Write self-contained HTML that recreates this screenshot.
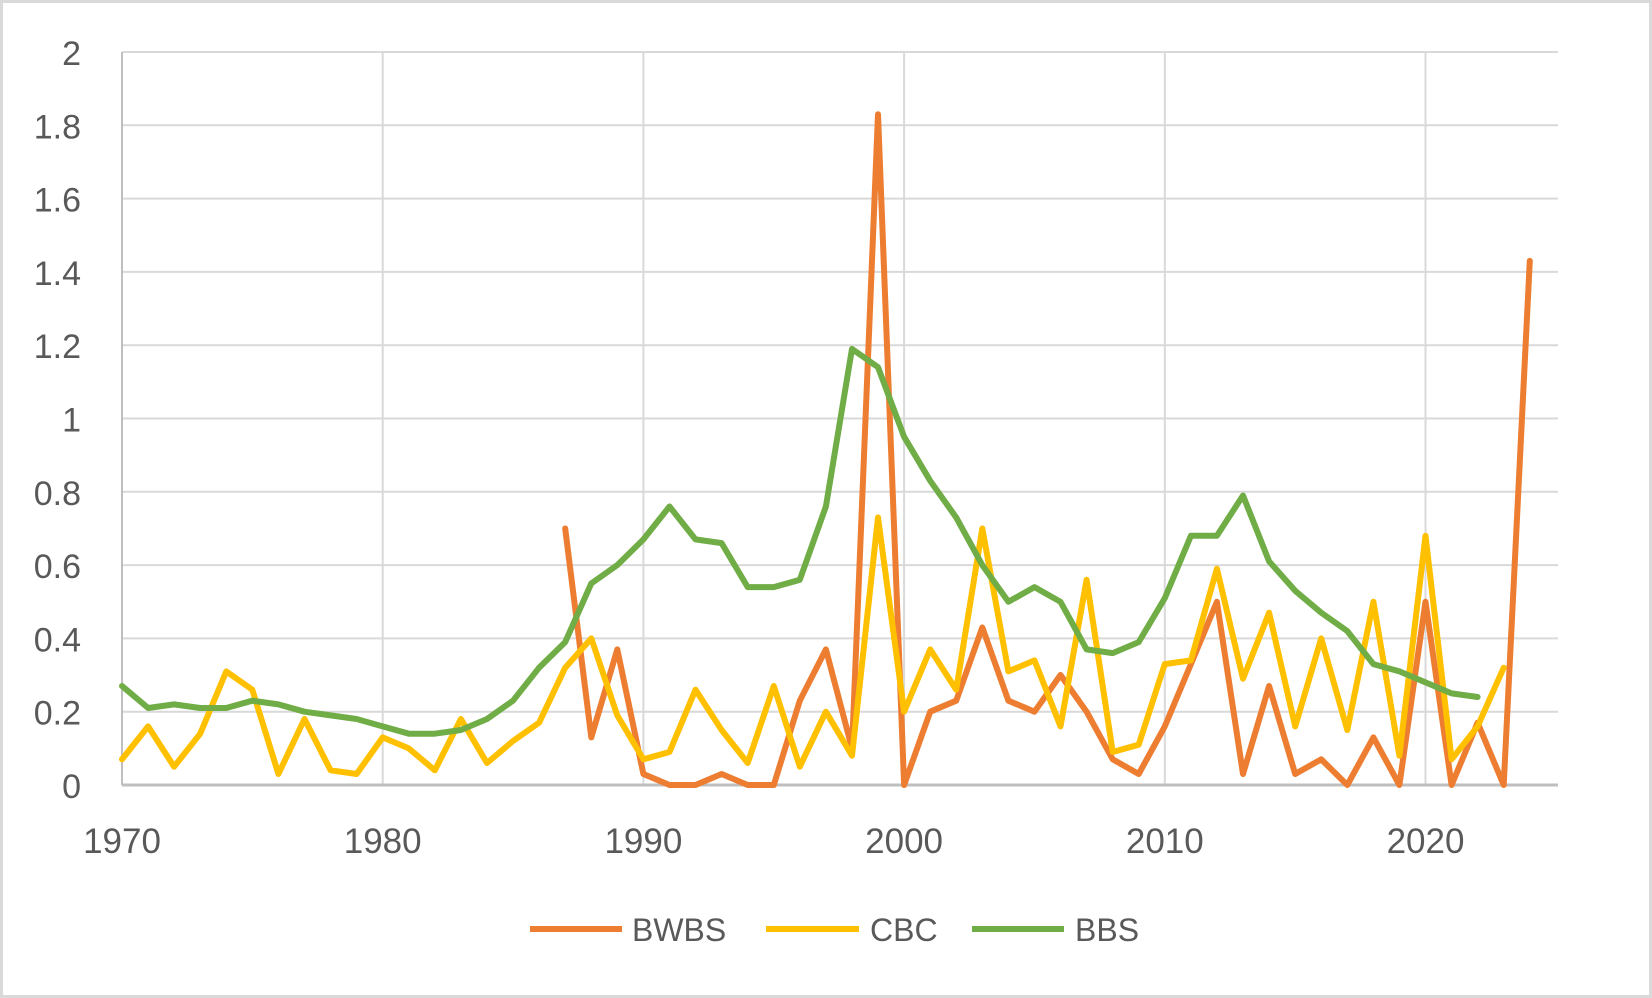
<!DOCTYPE html>
<html><head><meta charset="utf-8"><style>
html,body{margin:0;padding:0;background:#fff}
svg{display:block}
text{font-family:"Liberation Sans",sans-serif;fill:#595959}
</style></head><body>
<svg id="s" width="1652" height="998" xmlns="http://www.w3.org/2000/svg">
<rect x="1.5" y="1.5" width="1649" height="995" fill="#fff" stroke="#d9d9d9" stroke-width="3"/>
<g id="grid"></g>
<g id="series"></g>
<g font-size="32">
<line x1="530" y1="929" x2="622" y2="929" stroke="#ED7D31" stroke-width="6"/>
<text x="632" y="941">BWBS</text>
<line x1="766" y1="929" x2="859" y2="929" stroke="#FFC000" stroke-width="6"/>
<text x="870" y="941">CBC</text>
<line x1="972" y1="929" x2="1064" y2="929" stroke="#70AD47" stroke-width="6"/>
<text x="1075" y="941">BBS</text>
</g>
</svg>
<script>
var X0=122,XS=26.07,Y0=785,YS=366.5;
function px(yr){return X0+(yr-1970)*XS}
function py(v){return Y0-v*YS}
var g='';
for(var i=0;i<=10;i++){var v=i*0.2,y=py(v);
 g+='<line x1="'+X0+'" y1="'+y+'" x2="1558" y2="'+y+'" stroke="#d9d9d9" stroke-width="2"/>';
 g+='<text x="81" y="'+(y+13)+'" font-size="34" text-anchor="end">'+(i==0?'0':(i%5==0?(v.toFixed(0)):v.toFixed(1)))+'</text>';}
for(var d=1970;d<=2020;d+=10){var x=px(d);
 g+='<line x1="'+x+'" y1="'+py(2)+'" x2="'+x+'" y2="'+Y0+'" stroke="#d9d9d9" stroke-width="2"/>';
 g+='<text x="'+x+'" y="853" font-size="35" text-anchor="middle">'+d+'</text>';}
g+='<line x1="'+X0+'" y1="'+py(2)+'" x2="'+X0+'" y2="'+Y0+'" stroke="#bfbfbf" stroke-width="2"/>';
g+='<line x1="'+X0+'" y1="'+Y0+'" x2="1558" y2="'+Y0+'" stroke="#bfbfbf" stroke-width="3"/>';
document.getElementById('grid').innerHTML=g;
var cbc=[0.07,0.16,0.05,0.14,0.31,0.26,0.03,0.18,0.04,0.03,0.13,0.10,0.04,0.18,0.06,0.12,0.17,0.32,0.40,0.19,0.07,0.09,0.26,0.15,0.06,0.27,0.05,0.20,0.08,0.73,0.20,0.37,0.26,0.70,0.31,0.34,0.16,0.56,0.09,0.11,0.33,0.34,0.59,0.29,0.47,0.16,0.40,0.15,0.50,0.08,0.68,0.07,0.16,0.32];
var bbs=[0.27,0.21,0.22,0.21,0.21,0.23,0.22,0.20,0.19,0.18,0.16,0.14,0.14,0.15,0.18,0.23,0.32,0.39,0.55,0.60,0.67,0.76,0.67,0.66,0.54,0.54,0.56,0.76,1.19,1.14,0.95,0.83,0.73,0.60,0.50,0.54,0.50,0.37,0.36,0.39,0.51,0.68,0.68,0.79,0.61,0.53,0.47,0.42,0.33,0.31,0.28,0.25,0.24];
var bw=[0.70,0.13,0.37,0.03,0,0,0.03,0,0,0.23,0.37,0.10,1.83,0,0.20,0.23,0.43,0.23,0.20,0.30,0.20,0.07,0.03,0.16,0.33,0.50,0.03,0.27,0.03,0.07,0,0.13,0,0.50,0,0.17,0,1.43];
function pl(arr,start,col){var p=arr.map(function(v,i){return px(start+i).toFixed(1)+','+py(v).toFixed(1)}).join(' ');
 return '<polyline points="'+p+'" fill="none" stroke="'+col+'" stroke-width="6" stroke-linejoin="round" stroke-linecap="round"/>';}
document.getElementById('series').innerHTML=pl(bw,1987,'#ED7D31')+pl(cbc,1970,'#FFC000')+pl(bbs,1970,'#70AD47');
</script>
</body></html>
